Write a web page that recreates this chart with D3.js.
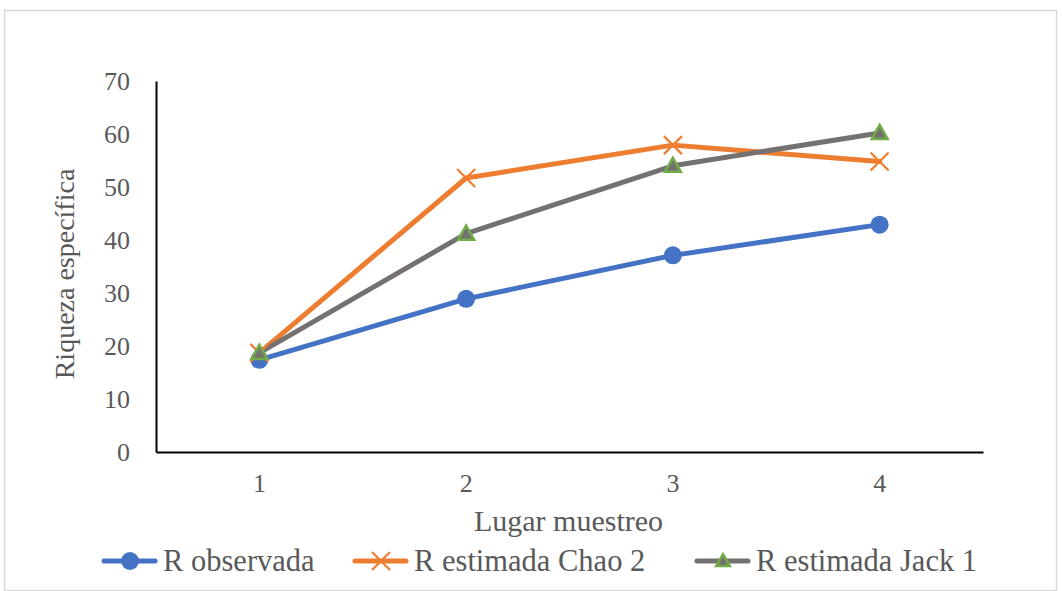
<!DOCTYPE html>
<html><head><meta charset="utf-8">
<script src="https://cdn.jsdelivr.net/npm/d3@7/dist/d3.min.js"></script>
<style>body{margin:0;background:#fff}svg{display:block}svg text{font-family:'Liberation Serif','Tinos','Times New Roman','DejaVu Serif',serif !important;fill:#595959}</style>
</head><body><svg id="c" width="1062" height="591"></svg>
<script>
const categories = ["1","2","3","4"];
const observada = [17.4, 28.9, 37.1, 42.9];
const chao2 = [18.7, 51.7, 57.9, 54.8];
const jack1 = [18.7, 41.2, 54.0, 60.2];
const yTicks = [0,10,20,30,40,50,60,70];
const seriesNames = ["R observada","R estimada Chao 2","R estimada Jack 1"];

const svg = d3.select("#c");
svg.append("rect").attr("x",4.5).attr("y",10.5).attr("width",1052).attr("height",580)
  .attr("fill","#fff").attr("stroke","#d9d9d9").attr("stroke-width",1.5);

const L=156, R=983, T=81, B=452;
const x = d3.scaleBand().domain(categories).range([L,R]);
const y = d3.scaleLinear().domain([0,70]).range([B,T]);

const ya = svg.append("g").attr("transform",`translate(${L},0)`)
  .call(d3.axisLeft(y).tickValues(yTicks).tickSize(0).tickPadding(26));
ya.attr("font-family",null);
ya.select(".domain").attr("stroke","#000").attr("stroke-width",2);
ya.selectAll("text").style("font-size","26px").attr("fill","#595959");

const xa = svg.append("g").attr("transform",`translate(0,${B})`)
  .call(d3.axisBottom(x).tickSize(0).tickPadding(22));
xa.attr("font-family",null);
xa.select(".domain").attr("stroke","#000").attr("stroke-width",2);
xa.selectAll("text").style("font-size","26px").attr("fill","#595959");

svg.append("text").attr("x",(L+R)/2-1).attr("y",531).attr("text-anchor","middle")
  .style("font-size","30px").text("Lugar muestreo");
svg.append("text").attr("transform","translate(74,274) rotate(-90)").attr("text-anchor","middle")
  .style("font-size","28px").text("Riqueza específica");

const cx = d => x(d)+x.bandwidth()/2;
const line = d3.line().x((d,i)=>cx(categories[i])).y(d=>y(d));
const colors = ["#4472C4","#ED7D31","#767171"];
const data = [observada, chao2, jack1];

function marker(g, k, px, py, s){
  if(k===0){ g.append("circle").attr("cx",px).attr("cy",py).attr("r",9*s).attr("fill",colors[0]); }
  else if(k===1){ const r=9*s;
    g.append("path").attr("d",`M${px-r},${py-r}L${px+r},${py+r}M${px-r},${py+r}L${px+r},${py-r}`)
      .attr("stroke",colors[1]).attr("stroke-width",2.2); }
  else { const r=8*s;
    g.append("path").attr("d",`M${px},${py-r}L${px+r},${py+r*0.75}L${px-r},${py+r*0.75}Z`)
      .attr("fill",colors[2]).attr("stroke","#70AD47").attr("stroke-width",2.5); }
}

data.forEach((vals,k)=>{
  svg.append("path").datum(vals).attr("d",line).attr("fill","none")
    .attr("stroke",colors[k]).attr("stroke-width",5).attr("stroke-linejoin","round").attr("stroke-linecap","round");
});
data.forEach((vals,k)=>{
  const g=svg.append("g");
  vals.forEach((v,i)=>marker(g,k,cx(categories[i]),y(v),1));
});

const legX=[104,355,697], legY=561;
seriesNames.forEach((n,k)=>{
  const g=svg.append("g");
  g.append("line").attr("x1",legX[k]).attr("x2",legX[k]+51).attr("y1",legY).attr("y2",legY)
    .attr("stroke",colors[k]).attr("stroke-width",5).attr("stroke-linecap","round");
  marker(g,k,legX[k]+26,legY,k===2?0.85:1);
  g.append("text").attr("x",legX[k]+59).attr("y",legY+10).style("font-size","30.5px").text(n);
});
</script></body></html>
